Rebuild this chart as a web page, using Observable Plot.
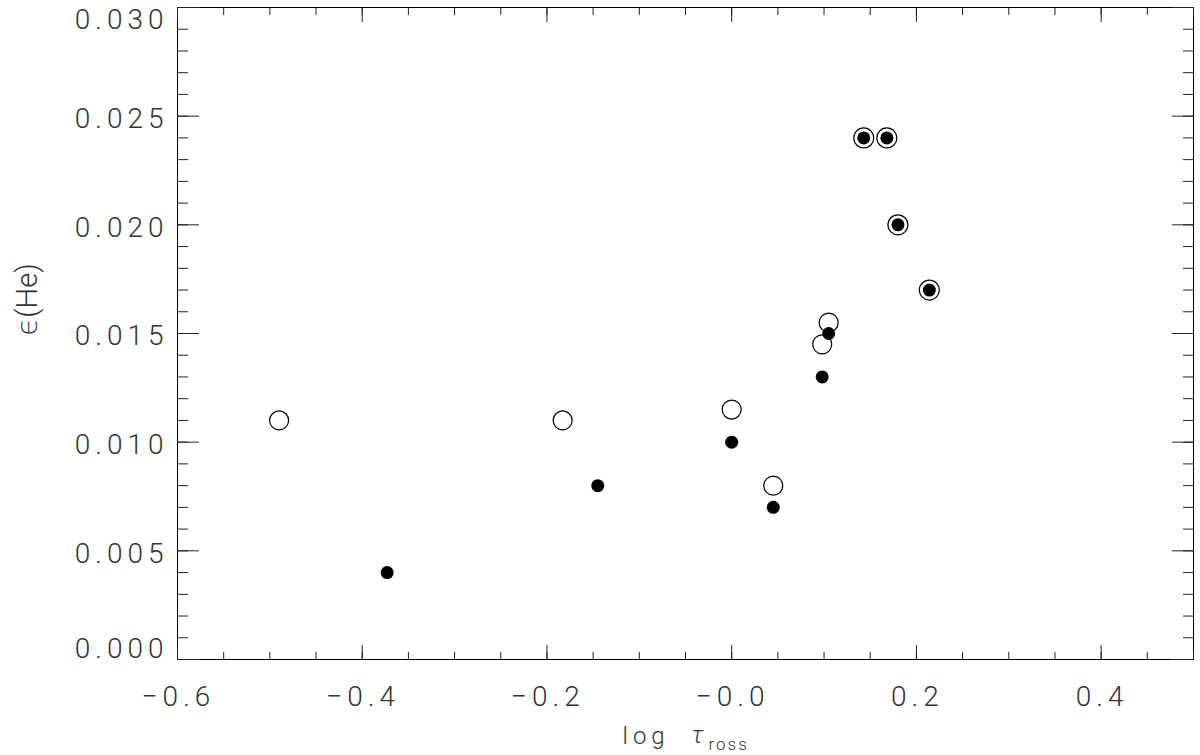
<!DOCTYPE html>
<html>
<head>
<meta charset="utf-8">
<script src="https://cdn.jsdelivr.net/npm/d3@7"></script>
<script src="https://cdn.jsdelivr.net/npm/@observablehq/plot@0.6"></script>
<style>
  html, body { margin: 0; padding: 0; background: #fff; }
  #chart svg { display: block; }
  #chart svg text { font-family: Roboto, "DejaVu Sans", sans-serif; font-weight: 300; fill: #333; }
  .ticklab text { letter-spacing: 5px; }
  .sub text { letter-spacing: 2px; }
</style>
</head>
<body>
<div id="chart"></div>
<script>
// Open circles
const openX = [-0.490, -0.183, 0.000, 0.045, 0.098, 0.105];
const openY = [0.0110, 0.0110, 0.0115, 0.0080, 0.0145, 0.0155];
// Filled dots
const filledX = [-0.373, -0.145, 0.000, 0.045, 0.098, 0.105];
const filledY = [0.0040, 0.0080, 0.0100, 0.0070, 0.0130, 0.0150];
// Ringed (circle with filled dot)
const ringX = [0.143, 0.168, 0.180, 0.214];
const ringY = [0.0240, 0.0240, 0.0200, 0.0170];

// Axis ticks and labels
const xMajor = [-0.6, -0.4, -0.2, 0.0, 0.2, 0.4];
const xTickLabels = ["\u22120.6", "\u22120.4", "\u22120.2", "\u22120.0", "0.2", "0.4"];
const yMajor = [0.000, 0.005, 0.010, 0.015, 0.020, 0.025, 0.030];
const yTickLabels = ["0.000", "0.005", "0.010", "0.015", "0.020", "0.025", "0.030"];
const xTitle = ["log", "\u03c4", "ross"];
const yTitle = "\u03f5(He)";

const xMinor = d3.ticks(-0.6, 0.5, 22);
const yMinor = d3.ticks(0, 0.03, 30);

const openData = openX.map((x, i) => ({x, y: openY[i]}));
const filledData = filledX.map((x, i) => ({x, y: filledY[i]}));
const ringData = ringX.map((x, i) => ({x, y: ringY[i]}));

const xLab = d => xTickLabels[xMajor.indexOf(d)];
const yLab = d => yTickLabels[yMajor.indexOf(d)];
const blank = () => "";

const chart = Plot.plot({
  width: 1200,
  height: 755,
  marginLeft: 177,
  marginRight: 7,
  marginTop: 7,
  marginBottom: 96,
  x: {domain: [-0.6, 0.5]},
  y: {domain: [0, 0.03]},
  style: {background: "white", overflow: "visible"},
  marks: [
    Plot.frame({stroke: "black", strokeWidth: 1}),
    // inward ticks, all four sides
    Plot.axisX({anchor: "bottom", ticks: xMinor, tickSize: -7, tickFormat: blank, label: null, stroke: "#222"}),
    Plot.axisX({anchor: "bottom", ticks: xMajor, tickSize: -14, tickFormat: blank, label: null, stroke: "#222"}),
    Plot.axisX({anchor: "top", ticks: xMinor, tickSize: -7, tickFormat: blank, label: null, stroke: "#222"}),
    Plot.axisX({anchor: "top", ticks: xMajor, tickSize: -14, tickFormat: blank, label: null, stroke: "#222"}),
    Plot.axisY({anchor: "left", ticks: yMinor, tickSize: -11, tickFormat: blank, label: null, stroke: "#222"}),
    Plot.axisY({anchor: "left", ticks: yMajor, tickSize: -22, tickFormat: blank, label: null, stroke: "#222"}),
    Plot.axisY({anchor: "right", ticks: yMinor, tickSize: -11, tickFormat: blank, label: null, stroke: "#222"}),
    Plot.axisY({anchor: "right", ticks: yMajor, tickSize: -22, tickFormat: blank, label: null, stroke: "#222"}),
    // tick labels
    Plot.axisX({anchor: "bottom", ticks: xMajor, tickSize: 0, tickPadding: 27, dx: 1, tickFormat: xLab, label: null, fontSize: 28, className: "ticklab"}),
    Plot.axisY({anchor: "left", ticks: yMajor.slice(1, 6), tickSize: 0, tickPadding: 9, dy: 3, tickFormat: yLab, label: null, fontSize: 28, className: "ticklab"}),
    Plot.axisY({anchor: "left", ticks: [yMajor[6]], tickSize: 0, tickPadding: 9, dy: 13, tickFormat: yLab, label: null, fontSize: 28, className: "ticklab"}),
    Plot.axisY({anchor: "left", ticks: [yMajor[0]], tickSize: 0, tickPadding: 9, dy: -10, tickFormat: yLab, label: null, fontSize: 28, className: "ticklab"}),
    // axis titles
    Plot.text([xTitle[0]], {frameAnchor: "bottom", text: d => d, textAnchor: "start", dx: -63, dy: 84, fontSize: 24, className: "ticklab"}),
    Plot.text([xTitle[1]], {frameAnchor: "bottom", text: d => d, textAnchor: "start", dx: 6, dy: 83, fontSize: 24, fontStyle: "italic"}),
    Plot.text([xTitle[2]], {frameAnchor: "bottom", text: d => d, textAnchor: "start", dx: 23, dy: 90, fontSize: 17, className: "sub"}),
    Plot.text([yTitle], {frameAnchor: "left", text: d => d, rotate: -90, dx: -150, dy: 2, fontSize: 29}),
    // data
    Plot.dot(openData, {x: "x", y: "y", r: 9.5, stroke: "black", strokeWidth: 1.2, fill: "none"}),
    Plot.dot(filledData, {x: "x", y: "y", r: 6.5, fill: "black", stroke: "none"}),
    Plot.dot(ringData, {x: "x", y: "y", r: 10, stroke: "black", strokeWidth: 1.2, fill: "white"}),
    Plot.dot(ringData, {x: "x", y: "y", r: 6.5, fill: "black", stroke: "none"})
  ]
});
document.getElementById("chart").appendChild(chart);
</script>
</body>
</html>
